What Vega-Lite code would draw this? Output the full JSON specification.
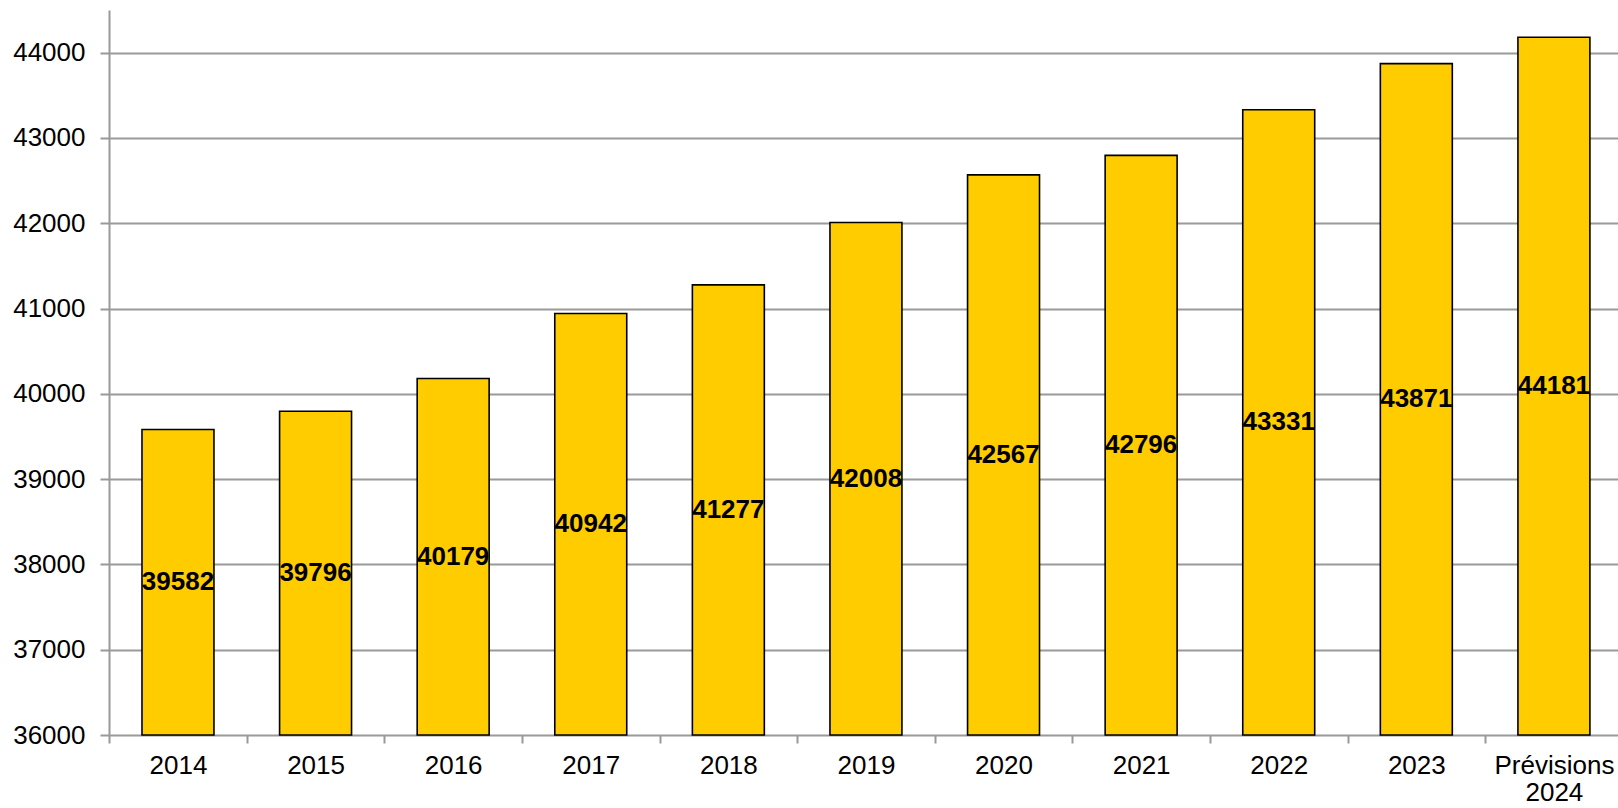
{
  "$schema": "https://vega.github.io/schema/vega-lite/v6.json",
  "width": 1509,
  "height": 725,
  "autosize": {"type": "none"},
  "padding": {"left": 109, "top": 10, "right": 0, "bottom": 73},
  "background": "white",
  "config": {
    "view": {"stroke": null},
    "font": "Liberation Sans",
    "axisY": {
      "title": null,
      "format": "d",
      "labelFontSize": 26,
      "labelColor": "#000000",
      "labelPadding": 15,
      "tickSize": 9,
      "tickColor": "#999999",
      "tickWidth": 2,
      "domainColor": "#999999",
      "domainWidth": 2,
      "grid": true,
      "gridColor": "#9a9a9a",
      "gridWidth": 2
    }
  },
  "data": {
    "values": [
      {"annee": "2014", "effectif": 39582},
      {"annee": "2015", "effectif": 39796},
      {"annee": "2016", "effectif": 40179},
      {"annee": "2017", "effectif": 40942},
      {"annee": "2018", "effectif": 41277},
      {"annee": "2019", "effectif": 42008},
      {"annee": "2020", "effectif": 42567},
      {"annee": "2021", "effectif": 42796},
      {"annee": "2022", "effectif": 43331},
      {"annee": "2023", "effectif": 43871},
      {"annee": "Prévisions 2024", "effectif": 44181}
    ]
  },
  "encoding": {
    "x": {
      "field": "annee",
      "type": "nominal",
      "sort": null,
      "scale": {"paddingInner": 0.477, "paddingOuter": 0.222, "align": 0.54},
      "axis": {
        "title": null,
        "labelAngle": 0,
        "labelFontSize": 26,
        "labelColor": "#000000",
        "labelPadding": 9,
        "labelLineHeight": 27,
        "labelExpr": "datum.value == 'Prévisions 2024' ? ['Prévisions', '2024'] : datum.value",
        "tickOffset": -68.8,
        "labelOffset": 68.8,
        "tickSize": 8,
        "tickColor": "#999999",
        "tickWidth": 2,
        "domain": false,
        "grid": false
      }
    }
  },
  "layer": [
    {
      "mark": {"type": "bar", "color": "#FFCC00", "stroke": "#000000", "strokeWidth": 1.6},
      "encoding": {
        "y": {
          "field": "effectif",
          "type": "quantitative",
          "title": null,
          "scale": {"domain": [36000, 44500], "nice": false, "zero": false},
          "axis": {"values": [36000, 37000, 38000, 39000, 40000, 41000, 42000, 43000, 44000], "format": "d", "title": null}
        },
        "y2": {"datum": 36000}
      }
    },
    {
      "transform": [{"calculate": "(datum.effectif + 36000) / 2", "as": "milieu"}],
      "mark": {"type": "text", "fontSize": 26, "fontWeight": "bold", "color": "#000000", "baseline": "middle", "align": "center"},
      "encoding": {
        "y": {"field": "milieu", "type": "quantitative", "title": null, "scale": {"domain": [36000, 44500], "nice": false, "zero": false}, "axis": {"values": [36000, 37000, 38000, 39000, 40000, 41000, 42000, 43000, 44000], "format": "d", "title": null}},
        "text": {"field": "effectif", "type": "quantitative", "format": "d"}
      }
    }
  ]
}
